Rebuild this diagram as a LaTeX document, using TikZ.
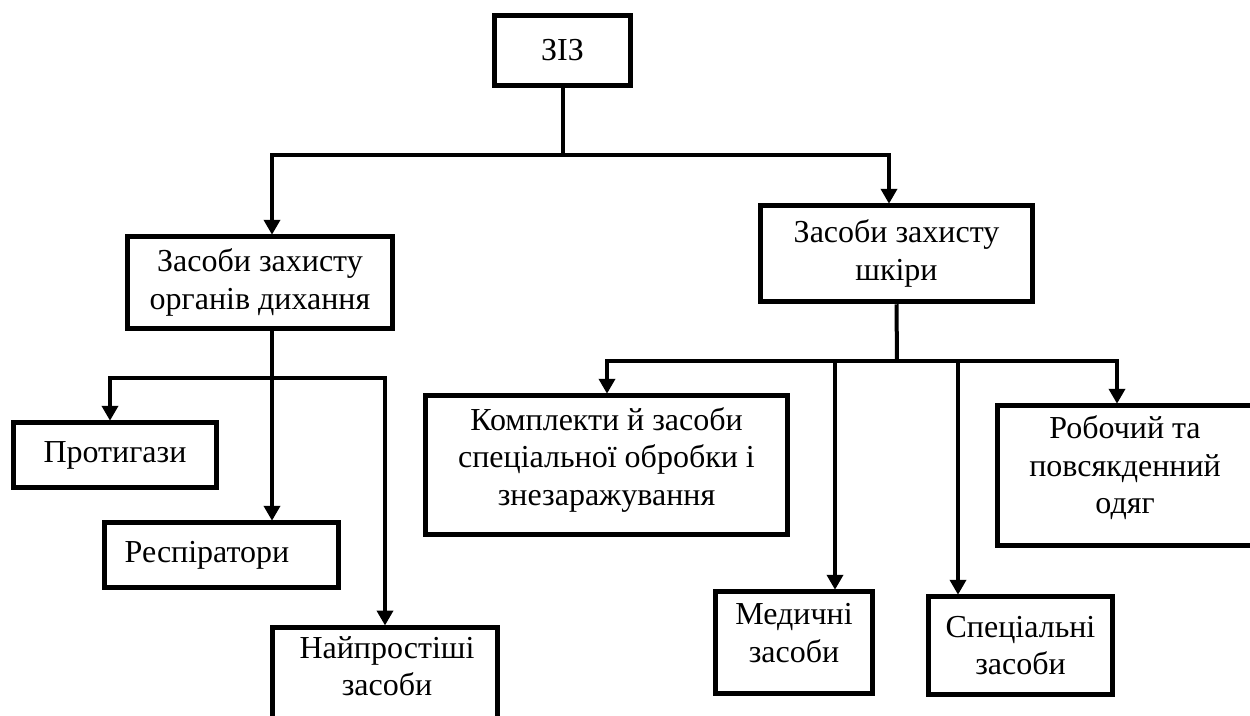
\documentclass[tikz,border=0pt]{standalone}
\usepackage{fontspec}
\setmainfont{Liberation Serif}
\usetikzlibrary{arrows.meta}
\begin{document}
\begin{tikzpicture}[x=1pt,y=-1pt,
  box/.style={draw, line width=5.5pt, rectangle, inner sep=0pt, align=center,
    font=\fontsize{32}{37.5}\selectfont},
  txt/.style={inner sep=0pt, align=center, font=\fontsize{32}{37.5}\selectfont},
  conn/.style={line width=4pt},
  arr/.style={line width=4pt, -{Triangle[length=15pt,width=16pt]}, shorten >=-1pt}]
\clip (0,0) rectangle (1250,715);
\fill[white] (0,0) rectangle (1250,715);
% boxes
\node[box, minimum width=136pt, minimum height=70pt] (zis) at (562.5,50.5) {ЗІЗ};
\node[box, minimum width=265pt, minimum height=92pt] (org) at (260,282.5) {Засоби захисту\\органів дихання};
\node[box, minimum width=272pt, minimum height=96pt] (skin) at (896.5,253.5) {Засоби захисту\\шкіри};
\node[box, minimum width=203pt, minimum height=65pt] (prot) at (115,455) {Протигази};
\node[box, minimum width=234pt, minimum height=65pt] (resp) at (221.5,555) {Респіратори\hspace*{29pt}};
\node[box, anchor=north, minimum width=225pt, minimum height=120pt] (simple) at (385,624.5) {};
\node[txt, anchor=north] (simpletxt) at (387,636) {Найпростіші\\засоби};
\node[box, minimum width=362pt, minimum height=139pt] (kompl) at (606.5,465) {Комплекти й засоби\\спеціальної обробки і\\знезаражування\\[-20pt]};
\node[box, minimum width=157pt, minimum height=102pt] (med) at (794,642.5) {Медичні\\засоби\\[-18pt]};
\node[box, minimum width=184pt, minimum height=98pt] (spec) at (1020.5,645.5) {Спеціальні\\засоби};
\node[box, minimum width=255pt, minimum height=140pt] (rob) at (1125,475.5) {Робочий та\\повсякденний\\одяг\\[-16pt]};
% junctions
\coordinate (j0) at (562.5,155);
\coordinate (jl) at (272,155);
\coordinate (jr) at (889,155);
\coordinate (k0) at (272,378);
\coordinate (kl) at (110,378);
\coordinate (kr) at (385,378);
\coordinate (m0) at (897,361);
\coordinate (ml) at (607,361);
\coordinate (m1) at (835,361);
\coordinate (m2) at (958,361);
\coordinate (mr) at (1117,361);
% top level
\draw[conn] (zis.south) -- (j0);
\draw[conn, line cap=rect] (jl) -- (jr);
\draw[arr] (jl) -- (jl |- org.north);
\draw[arr] (jr) -- (jr |- skin.north);
% left branch
\draw[conn] (k0 |- org.south) -- (k0);
\draw[conn, line cap=rect] (kl) -- (kr);
\draw[arr] (kl) -- (kl |- prot.north);
\draw[arr] (k0) -- (k0 |- resp.north);
\draw[arr] (kr) -- (kr |- simple.north);
% right branch
\draw[conn] (skin.south) -- (m0);
\draw[conn, line cap=rect] (ml) -- (mr);
\draw[arr] (ml) -- (ml |- kompl.north);
\draw[arr] (m1) -- (m1 |- med.north);
\draw[arr] (m2) -- (m2 |- spec.north);
\draw[arr] (mr) -- (mr |- rob.north);
\end{tikzpicture}
\end{document}
